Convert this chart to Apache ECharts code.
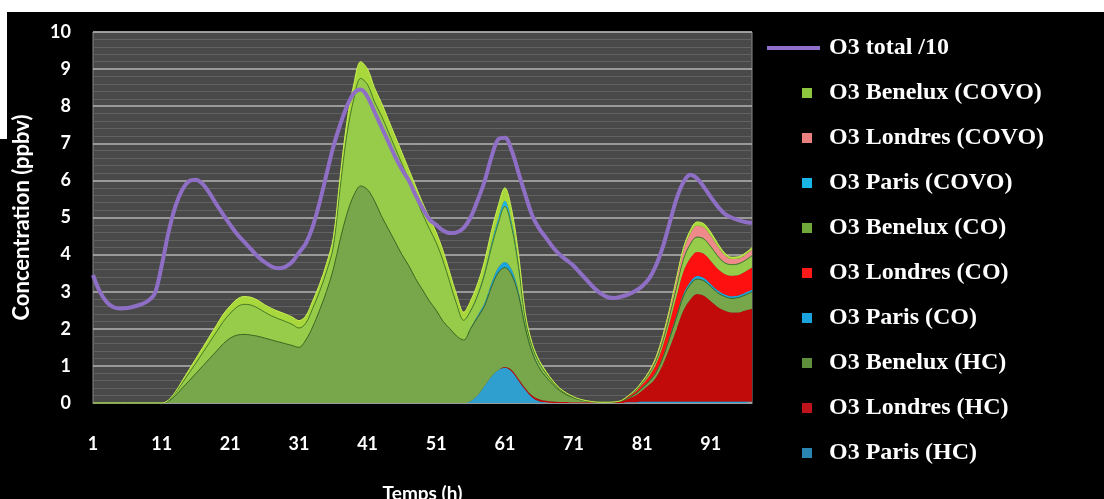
<!DOCTYPE html>
<html>
<head>
<meta charset="utf-8">
<script src="https://cdn.jsdelivr.net/npm/echarts@6/dist/echarts.min.js"></script>
<style>html,body{margin:0;padding:0;background:#000;}#c{width:1104px;height:499px;}</style>
</head>
<body>
<div id="c"></div>
<script>
// Categories: hours 1..97
const hours = [];
for (let h = 1; h <= 97; h++) hours.push(String(h));

const seriesNames = ['O3 total /10','O3 Benelux (COVO)','O3 Londres (COVO)','O3 Paris (COVO)','O3 Benelux (CO)','O3 Londres (CO)','O3 Paris (CO)','O3 Benelux (HC)','O3 Londres (HC)','O3 Paris (HC)'];

const o3Total10 = [
 3.45,3.0,2.72,2.58,2.55,2.56,2.6,2.66,2.75,2.95,
 3.7,4.6,5.3,5.75,5.98,6.02,5.9,5.65,5.35,5.07,
 4.8,4.55,4.35,4.15,3.95,3.8,3.68,3.63,3.67,3.8,
 4.05,4.3,4.75,5.4,6.15,6.9,7.5,8.0,8.35,8.45,
 8.25,7.85,7.45,7.05,6.65,6.3,6.0,5.6,5.25,4.95,
 4.8,4.65,4.58,4.6,4.72,5.0,5.45,5.95,6.6,7.1,
 7.15,6.8,6.2,5.6,5.05,4.7,4.45,4.2,4.0,3.85,
 3.7,3.5,3.3,3.1,2.95,2.85,2.83,2.87,2.93,3.02,
 3.15,3.35,3.7,4.2,4.85,5.5,5.95,6.15,6.05,5.82,
 5.55,5.3,5.1,5.0,4.93,4.88,4.85
];
const parisHC = [
 0,0,0,0,0,0,0,0,0,0,
 0,0,0,0,0,0,0,0,0,0,
 0,0,0,0,0,0,0,0,0,0,
 0,0,0,0,0,0,0,0,0,0,
 0,0,0,0,0,0,0,0,0,0,
 0,0,0,0,0,0.05,0.2,0.45,0.7,0.88,
 0.95,0.85,0.6,0.35,0.15,0.05,0.02,0,0,0,
 0,0,0,0,0,0,0,0,0.02,0.02,
 0.04,0.04,0.04,0.04,0.04,0.04,0.04,0.04,0.04,0.04,
 0.04,0.04,0.04,0.04,0.04,0.04,0.04
];
const londresHC = [
 0,0,0,0,0,0,0,0,0,0,
 0,0,0,0,0,0,0,0,0,0,
 0,0,0,0,0,0,0,0,0,0,
 0,0,0,0,0,0,0,0,0,0,
 0,0,0,0,0,0,0,0,0,0,
 0,0,0,0,0,0,0,0,0,0,
 0.02,0.04,0.05,0.05,0.05,0.05,0.04,0.04,0.03,0.03,
 0.02,0.02,0.02,0.02,0.02,0.02,0.03,0.05,0.1,0.18,
 0.3,0.45,0.65,1.0,1.45,1.95,2.45,2.75,2.9,2.85,
 2.7,2.55,2.45,2.4,2.4,2.45,2.5
];
const beneluxHC = [
 0,0,0,0,0,0,0,0,0,0,
 0,0.05,0.2,0.4,0.6,0.8,1.0,1.2,1.4,1.6,
 1.75,1.83,1.85,1.83,1.8,1.75,1.7,1.65,1.6,1.55,
 1.5,1.7,2.05,2.5,3.0,3.6,4.4,5.1,5.6,5.85,
 5.75,5.45,5.05,4.7,4.35,4.0,3.7,3.35,3.05,2.75,
 2.5,2.2,2.0,1.8,1.7,1.95,2.1,2.15,2.4,2.62,
 2.68,2.56,2.25,1.6,1.15,0.85,0.64,0.46,0.3,0.19,
 0.12,0.06,0.03,0.01,0,0,0,0.01,0.02,0.04,
 0.06,0.08,0.12,0.17,0.25,0.32,0.38,0.4,0.4,0.4,
 0.4,0.38,0.38,0.38,0.4,0.42,0.45
];
const parisCO = [
 0,0,0,0,0,0,0,0,0,0,
 0,0,0,0,0,0,0,0,0,0,
 0,0,0,0,0,0,0,0,0,0,
 0,0,0,0,0,0,0,0,0,0,
 0,0,0,0,0,0,0,0,0,0,
 0,0,0,0,0,0.02,0.05,0.08,0.11,0.14,
 0.15,0.14,0.1,0.05,0.03,0.02,0.01,0,0,0,
 0,0,0,0,0,0,0,0,0.01,0.01,
 0.02,0.02,0.03,0.04,0.05,0.06,0.07,0.08,0.08,0.08,
 0.07,0.07,0.06,0.06,0.06,0.06,0.06
];
const londresCO = [
 0,0,0,0,0,0,0,0,0,0,
 0,0,0,0,0,0,0,0,0,0,
 0,0,0,0,0,0,0,0,0,0,
 0,0,0,0,0,0,0,0,0,0,
 0,0,0,0,0,0,0,0,0,0,
 0,0,0,0,0,0,0,0,0,0,
 0,0,0,0,0,0,0,0,0,0,
 0,0,0,0,0,0,0,0.01,0.03,0.05,
 0.08,0.13,0.2,0.28,0.38,0.5,0.6,0.63,0.65,0.65,
 0.62,0.58,0.55,0.55,0.55,0.57,0.6
];
const beneluxCO = [
 0,0,0,0,0,0,0,0,0,0,
 0,0.02,0.07,0.14,0.21,0.28,0.36,0.44,0.52,0.6,
 0.67,0.76,0.81,0.81,0.76,0.7,0.65,0.62,0.6,0.57,
 0.52,0.45,0.5,0.5,0.53,0.6,1.4,2.15,2.6,2.9,
 2.83,2.67,2.7,2.62,2.53,2.45,2.3,2.2,2.05,1.95,
 1.82,1.63,1.24,0.85,0.53,0.46,0.53,0.75,0.96,1.18,
 1.5,1.14,0.65,0.18,0.12,0.1,0.08,0.06,0.04,0.03,
 0.02,0.01,0.01,0,0,0,0,0,0.02,0.03,
 0.04,0.06,0.09,0.13,0.18,0.24,0.32,0.38,0.4,0.4,
 0.38,0.34,0.3,0.3,0.3,0.3,0.32
];
const parisCOVO = [
 0,0,0,0,0,0,0,0,0,0,
 0,0,0,0,0,0,0,0,0,0,
 0,0,0,0,0,0,0,0,0,0,
 0,0,0,0,0,0,0,0,0,0,
 0,0,0,0,0,0,0,0,0,0,
 0,0,0,0,0,0.02,0.04,0.07,0.1,0.13,
 0.15,0.14,0.1,0.05,0.03,0.02,0.01,0,0,0,
 0,0,0,0,0,0,0,0,0,0,
 0,0.01,0.01,0.01,0.01,0.01,0.01,0.01,0.01,0.01,
 0.01,0.01,0.01,0.01,0.01,0.01,0.01
];
const londresCOVO = [
 0,0,0,0,0,0,0,0,0,0,
 0,0,0,0,0,0,0,0,0,0,
 0,0,0,0,0,0,0,0,0,0,
 0,0,0,0,0,0,0,0,0,0,
 0,0,0,0,0,0,0,0,0,0,
 0,0,0,0,0,0,0,0,0,0,
 0,0,0,0,0,0,0,0,0,0,
 0,0,0,0,0,0,0,0,0,0.02,
 0.02,0.04,0.06,0.1,0.13,0.18,0.22,0.27,0.3,0.3,
 0.28,0.25,0.2,0.14,0.13,0.14,0.15
];
const beneluxCOVO = [
 0,0,0,0,0,0,0,0,0,0,
 0,0.01,0.03,0.06,0.09,0.12,0.14,0.16,0.18,0.2,
 0.2,0.21,0.21,0.21,0.21,0.2,0.2,0.2,0.2,0.2,
 0.2,0.2,0.2,0.2,0.22,0.25,0.3,0.35,0.4,0.45,
 0.42,0.38,0.35,0.33,0.32,0.3,0.3,0.3,0.3,0.3,
 0.28,0.27,0.26,0.25,0.22,0.25,0.28,0.3,0.33,0.35,
 0.35,0.33,0.25,0.12,0.07,0.06,0.05,0.04,0.03,0.02,
 0.01,0.01,0,0,0,0,0,0,0,0.01,
 0.02,0.02,0.03,0.04,0.05,0.07,0.08,0.09,0.1,0.1,
 0.1,0.08,0.06,0.05,0.05,0.05,0.06
];

const yTicks = [0,1,2,3,4,5,6,7,8,9,10];

const chart = echarts.init(document.getElementById('c'), null, {renderer: 'canvas'});

function area(name, data, fill, legendColor, edge) {
  return {
    name: name, type: 'line', stack: 'o3', data: data,
    smooth: 0.35, showSymbol: false, symbol: 'none',
    itemStyle: {color: legendColor},
    lineStyle: edge ? {width: 1, color: edge} : {width: 0},
    areaStyle: {color: fill, opacity: 1},
    emphasis: {disabled: true}
  };
}

const labelFont = {color: '#fff', fontFamily: 'Lato', fontWeight: 'bold', fontSize: 18};
const legendFont = {color: '#fff', fontFamily: 'Liberation Serif', fontWeight: 'bold', fontSize: 24};

chart.setOption({
  backgroundColor: '#000',
  animation: false,
  graphic: [
    {type: 'rect', shape: {x: 0, y: 0, width: 1104, height: 12}, style: {fill: '#fff'}, silent: true},
    {type: 'rect', shape: {x: 0, y: 0, width: 7, height: 139}, style: {fill: '#fff'}, silent: true}
  ],
  grid: {
    left: 93, right: 352, top: 32, bottom: 96,
    outerBoundsMode: 'none', containLabel: false,
    show: true, backgroundColor: '#494949', borderColor: '#8a8a8a', borderWidth: 1
  },
  legend: [
    {
      data: [seriesNames[0]], orient: 'vertical', left: 767, top: 36, padding: 0,
      itemWidth: 53, itemHeight: 4, icon: 'rect', selectedMode: false,
      textStyle: Object.assign({padding: [0,0,0,4]}, legendFont)
    },
    {
      data: seriesNames.slice(1), orient: 'vertical', left: 802, top: 81, padding: 0,
      itemWidth: 10, itemHeight: 10, itemGap: 21, icon: 'rect', selectedMode: false,
      textStyle: Object.assign({padding: [0,0,0,12]}, legendFont)
    }
  ],
  xAxis: {
    type: 'category', data: hours, boundaryGap: false,
    name: 'Temps (h)', nameLocation: 'middle', nameGap: 81,
    nameTextStyle: Object.assign({}, labelFont, {fontSize: 19}),
    axisLabel: Object.assign({interval: 9, margin: 32}, labelFont),
    axisTick: {show: false},
    axisLine: {show: true, lineStyle: {color: '#9a9a9a', width: 1}},
    splitLine: {show: false}
  },
  yAxis: {
    type: 'value', min: yTicks[0], max: yTicks[yTicks.length - 1], interval: 1,
    name: 'Concentration (ppbv)', nameLocation: 'middle', nameGap: 60, nameRotate: 90,
    nameTextStyle: Object.assign({}, labelFont, {fontSize: 22}),
    axisLabel: Object.assign({margin: 22}, labelFont),
    axisLine: {show: false}, axisTick: {show: false},
    splitLine: {show: true, lineStyle: {color: '#b4b4b4', width: 1.5}},
    minorTick: {show: false, splitNumber: 5},
    minorSplitLine: {show: true, lineStyle: {color: '#626262', width: 1}}
  },
  series: [
    area(seriesNames[9], parisHC, '#2f9fd0', '#2a86b0'),
    area(seriesNames[8], londresHC, '#c10a0a', '#c0141b'),
    area(seriesNames[7], beneluxHC, '#78a64a', '#5f8f3a', '#3d6a22'),
    area(seriesNames[6], parisCO, '#1aa6dc', '#1aa3dd'),
    area(seriesNames[5], londresCO, '#ff1010', '#ff1a1a'),
    area(seriesNames[4], beneluxCO, '#96cc4a', '#6fa83a', '#4a7d27'),
    area(seriesNames[3], parisCOVO, '#1fb4e6', '#19b5e6'),
    area(seriesNames[2], londresCOVO, '#ee8a8a', '#e88080'),
    area(seriesNames[1], beneluxCOVO, '#a8d83c', '#8cc63f', '#c8ee50'),
    {
      name: seriesNames[0], type: 'line', data: o3Total10, smooth: 0.35,
      showSymbol: false, symbol: 'none',
      itemStyle: {color: '#9070c8'},
      lineStyle: {color: '#8f6fc6', width: 4},
      emphasis: {disabled: true}, z: 5
    }
  ]
});
</script>
</body>
</html>
